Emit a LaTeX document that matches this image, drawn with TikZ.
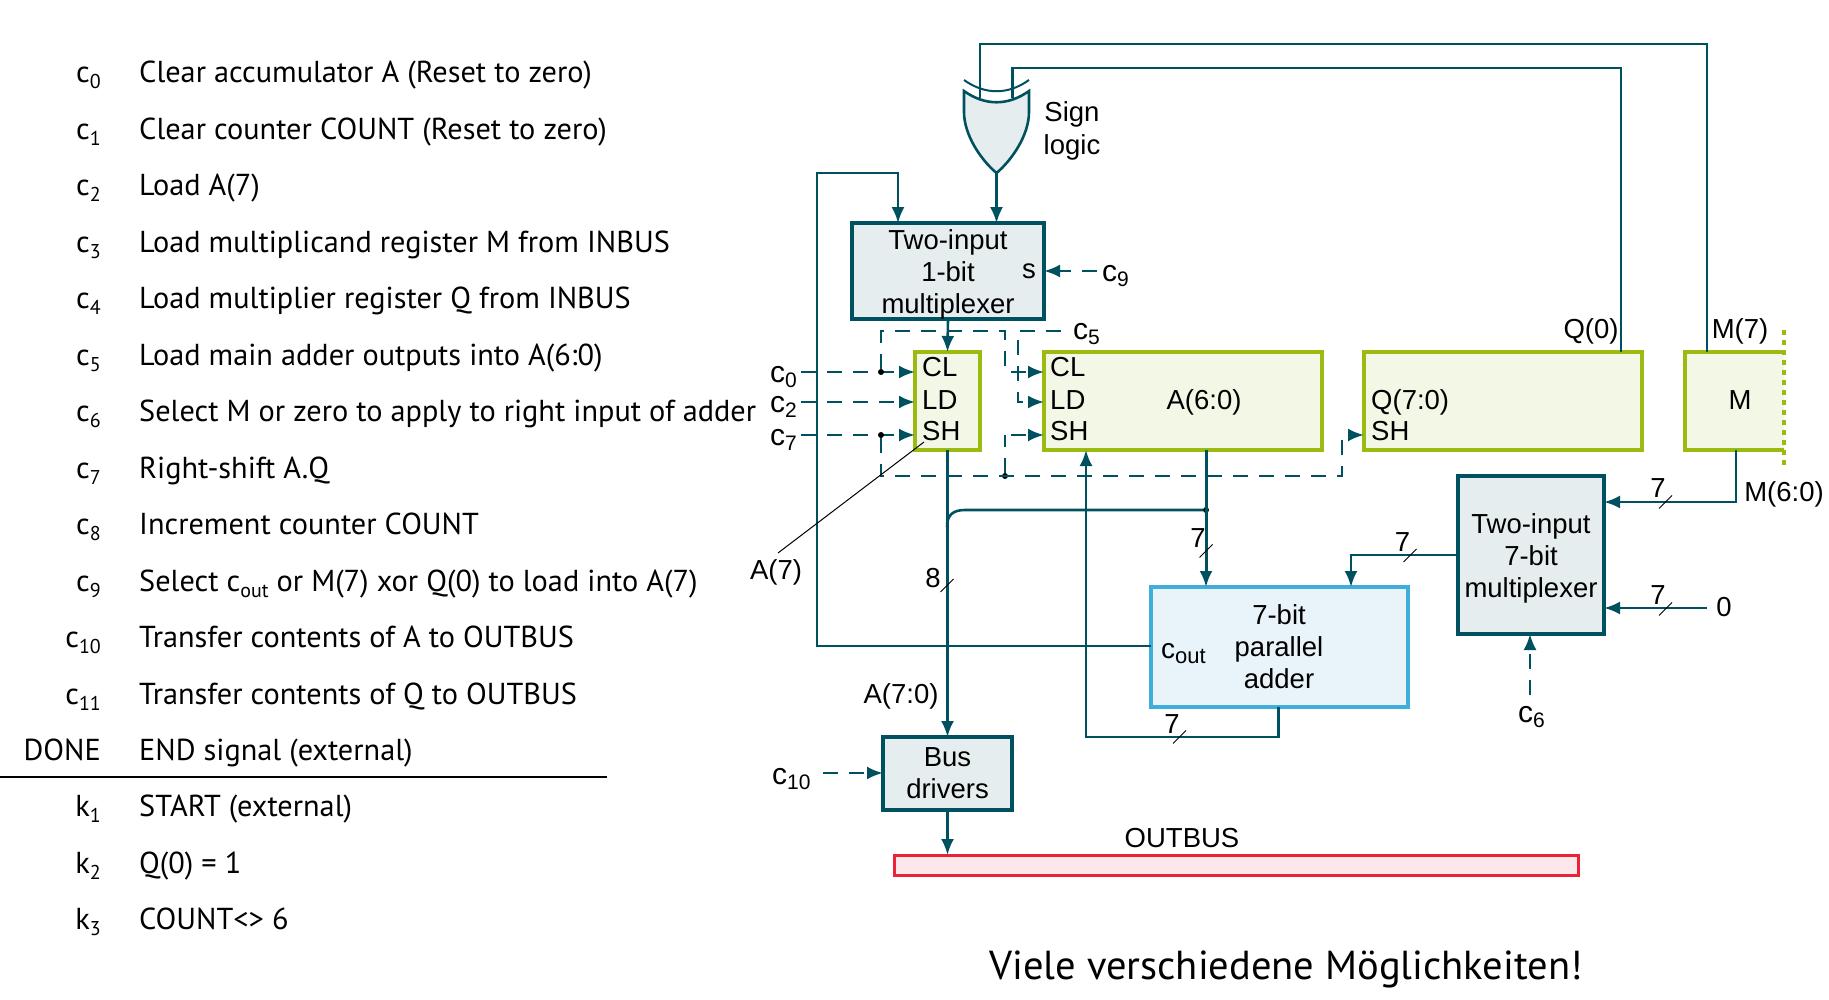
\documentclass[tikz,border=0pt]{standalone}
\usepackage{fontspec}
\usetikzlibrary{arrows.meta}
\setmainfont{PT Sans}
\newfontfamily\diagfont{Liberation Sans}
\definecolor{wirecol}{HTML}{00515F}
\definecolor{muxfill}{HTML}{E5EDEF}
\definecolor{reggreen}{HTML}{9BBB11}
\definecolor{regfill}{HTML}{F3F7E6}
\definecolor{addblue}{HTML}{40AEDA}
\definecolor{addfill}{HTML}{E8F4FA}
\definecolor{busred}{HTML}{EC2239}
\definecolor{busfill}{HTML}{FCE8EA}
\newcommand{\listsub}[2]{#1\raisebox{-6pt}{\fontsize{20}{20}\selectfont #2}}
\newcommand{\ctlsub}[1]{{\fontsize{30}{30}\selectfont c\raisebox{-5pt}{\fontsize{21}{21}\selectfont #1}}}
\newcommand{\boxstrut}{\rule{0pt}{26pt}}
\tikzset{
  wire/.style={draw=wirecol,line width=2.6pt,>={Latex[length=16pt,width=13pt]}},
  ctl/.style={wire,dash pattern=on 15pt off 11pt},
  muxbox/.style={draw=wirecol,fill=muxfill,line width=4pt,outer sep=0pt,inner sep=0pt,align=center,font=\diagfont\fontsize{27.5}{32}\selectfont},
  regbox/.style={draw=reggreen,fill=regfill,line width=4pt,outer sep=0pt,inner sep=0pt},
  addbox/.style={muxbox,draw=addblue,fill=addfill},
  wirelabel/.style={inner sep=0pt,anchor=mid,font=\diagfont\fontsize{27.5}{32}\selectfont},
  ctllabel/.style={inner sep=0pt,anchor=base west,font=\diagfont},
  listlabel/.style={inner sep=0pt,font=\fontsize{30.3}{36}\selectfont},
  junction/.style={circle,fill=black,inner sep=0pt,minimum size=6pt},
  slashmark/.style={black,line width=0.8pt},
}
\begin{document}
\begin{tikzpicture}[x=1pt,y=-1pt]
  \useasboundingbox (0,0) rectangle (1829,1000);
  \foreach \lab/\txt [count=\i] in {
      {\listsub{c}{0}}/{Clear accumulator A (Reset to zero)},
      {\listsub{c}{1}}/{Clear counter COUNT (Reset to zero)},
      {\listsub{c}{2}}/{Load A(7)},
      {\listsub{c}{3}}/{Load multiplicand register M from INBUS},
      {\listsub{c}{4}}/{Load multiplier register Q from INBUS},
      {\listsub{c}{5}}/{Load main adder outputs into A(6:0)},
      {\listsub{c}{6}}/{Select M or zero to apply to right input of adder},
      {\listsub{c}{7}}/{Right-shift A.Q},
      {\listsub{c}{8}}/{Increment counter COUNT},
      {\listsub{c}{9}}/{Select \listsub{c}{out} or M(7) xor Q(0) to load into A(7)},
      {\listsub{c}{10}}/{Transfer contents of A to OUTBUS},
      {\listsub{c}{11}}/{Transfer contents of Q to OUTBUS},
      {DONE}/{END signal (external)},
      {\listsub{k}{1}}/{START (external)},
      {\listsub{k}{2}}/{Q(0) = 1},
      {\listsub{k}{3}}/{COUNT<> 6}}
    {
      \node[listlabel,anchor=base east] (lab\i) at (101,{83+56.46*(\i-1)}) {\lab};
      \node[listlabel,anchor=base west] (txt\i) at (139,{83+56.46*(\i-1)}) {\txt};
    }
  \coordinate (ruleleft) at (0,777);
  \coordinate (ruleright) at (607,777);
  \draw[black,line width=2pt] (ruleleft) -- (ruleright);
  \node[inner sep=0pt,anchor=base,font=\fontsize{40.5}{48}\selectfont] (remark) at (1286,979) {Viele verschiedene Möglichkeiten!};

  \node[muxbox,minimum width=192,minimum height=94] (muxa) at (948,271) {\boxstrut Two-input\\1-bit\\multiplexer};
  \node[regbox,minimum width=65,minimum height=98] (regl) at (947.5,401) {};
  \node[regbox,minimum width=278,minimum height=98] (rega) at (1183,401) {};
  \node[regbox,minimum width=278,minimum height=98] (regq) at (1503,401) {};
  \node[fill=regfill,outer sep=0pt,minimum width=98.5,minimum height=98] (regm) at (1734.5,401) {};
  \node[addbox,minimum width=257,minimum height=120] (adder) at (1279,647) {7-bit\\parallel\\adder};
  \node[muxbox,minimum width=146,minimum height=158] (muxb) at (1531,555) {\boxstrut Two-input\\7-bit\\multiplexer};
  \node[muxbox,minimum width=129,minimum height=73] (bus) at (947.5,773.5) {Bus\\drivers};
  \node[regbox,draw=busred,fill=busfill,line width=3pt,minimum width=684,minimum height=20] (outbus) at (1236,865) {};

  \draw[reggreen,line width=4pt] (regm.north east) -- (regm.north west) -- (regm.south west) -- (regm.south east);
  \coordinate (mdottop) at (1784,330);
  \coordinate (mdotbot) at (1784,468);
  \draw[reggreen,line width=3.5pt,dash pattern=on 5pt off 5pt] (mdottop) -- (mdotbot);

  % sign logic
  \coordinate (gatetip) at (996.5,173);
  \coordinate (gateina) at (980,98);
  \coordinate (gateinb) at (1012.5,98);
  \coordinate (topa) at (980,44);
  \coordinate (topb) at (1012.5,68);
  \coordinate (tops) at (1707,44);
  \coordinate (topq) at (1621,68);
  \coordinate (regmin) at (1707,352);
  \coordinate (regqin) at (1621,352);
  \draw[wire] (gateina) -- (topa) -- (tops) -- (regmin);
  \draw[wire] (gateinb) -- (topb) -- (topq) -- (regqin);
  \draw[wire,fill=muxfill] (964,91) .. controls (985,106) and (1008,106) .. (1029,91) -- (1029,112) .. controls (1029,135) and (1012,160) .. (gatetip) .. controls (981,160) and (964,135) .. (964,112) -- cycle;
  \draw[wire,line width=2pt] (964,80) .. controls (985,95) and (1008,95) .. (1029,80);
  \node[wirelabel] (signlbl) at (1072,119) {Sign};
  \node[wirelabel] (logiclbl) at (1072,152) {logic};
  \draw[wire,->] (gatetip) -- (gatetip |- muxa.north);

  % feedback from adder
  \coordinate (fbtop) at (817,173);
  \coordinate (fbbot) at (817,646);
  \coordinate (fbin) at (898,173);
  \draw[wire,->] (adder.west |- fbbot) -- (fbbot) -- (fbtop) -- (fbin) -- (fbin |- muxa.north);
  \node[ctllabel,font=\diagfont\fontsize{28}{28}\selectfont] (coutlbl) at (1161,658) {c\raisebox{-5pt}{\fontsize{22}{22}\selectfont out}};

  % select and load lines
  \node[wirelabel] (slbl) at (1029,276) {s};
  \coordinate (c9s) at (1097,271);
  \draw[ctl,->] (c9s) -- (muxa.east |- c9s);
  \node[ctllabel] (c9lbl) at (1102,282) {\ctlsub{9}};
  \draw[wire,->] (muxa.south) -- (regl.north);
  \coordinate (c0s) at (801,372);
  \coordinate (c2s) at (801,402);
  \coordinate (c7s) at (801,435);
  \node[ctllabel] (c0lbl) at (770,382) {\ctlsub{0}};
  \node[ctllabel] (c2lbl) at (770,412) {\ctlsub{2}};
  \node[ctllabel] (c7lbl) at (770,445) {\ctlsub{7}};
  \draw[ctl,->] (c0s) -- (regl.west |- c0s);
  \draw[ctl,->] (c2s) -- (regl.west |- c2s);
  \draw[ctl,->] (c7s) -- (regl.west |- c7s);
  \node[junction] (jclr) at (881,372) {};
  \node[junction] (jsh) at (881,435) {};
  \node[junction] (jlow) at (1005,476) {};
  \coordinate (clrtopl) at (881,331);
  \coordinate (clrtopr) at (1005,331);
  \coordinate (clrend) at (1005,372);
  \coordinate (clrnext) at (1011,372);
  \draw[ctl] (jclr) -- (clrtopl) -- (clrtopr) -- (clrend);
  \draw[ctl,->] (clrnext) -- (rega.west |- clrnext);
  \coordinate (c5s) at (1061,331);
  \coordinate (c5top) at (1018,331);
  \coordinate (c5low) at (1018,402);
  \draw[ctl,->] (c5s) -- (c5top) -- (c5low) -- (rega.west |- c5low);
  \node[ctllabel] (c5lbl) at (1073,340) {\ctlsub{5}};
  \coordinate (shleft) at (881,476);
  \coordinate (shright) at (1342,476);
  \coordinate (shup) at (1342,435);
  \draw[ctl,->] (jsh) -- (shleft) -- (shright) -- (shup) -- (regq.west |- shup);
  \coordinate (shmid) at (1005,435);
  \coordinate (shnext) at (1011,435);
  \draw[ctl] (jlow) -- (shmid);
  \draw[ctl,->] (shnext) -- (rega.west |- shnext);

  % register texts
  \foreach \nm/\txt/\px/\py in {cla/CL/922/374,lda/LD/922/407,sha/SH/922/438,clb/CL/1050/374,ldb/LD/1050/407,shb/SH/1050/438,qname/Q(7:0)/1371/407,shq/SH/1371/438}
    \node[wirelabel,anchor=mid west] (\nm) at (\px,\py) {\txt};
  \node[wirelabel] (aname) at (1204,407) {A(6:0)};
  \node[wirelabel] (mname) at (1740,407) {M};
  \node[wirelabel] (qzero) at (1591,336) {Q(0)};
  \node[wirelabel] (mseven) at (1740,336) {M(7)};

  % data paths
  \coordinate (aoutx) at (1206,450);
  \coordinate (aup) at (1086,737);
  \coordinate (aloop) at (1278.6,737);
  \coordinate (brsplit) at (947,527);
  \node[junction] (jaout) at (1206,510) {};
  \draw[wire,line width=3pt,->] (aoutx) -- (aoutx |- adder.north);
  \draw[wire,->] (regl.south) -- (bus.north);
  \draw[wire] (brsplit) .. controls (947,515) and (953,510) .. (965,510) -- (jaout);
  \draw[wire,->] (aloop |- adder.south) -- (aloop) -- (aup) -- (aup |- rega.south);
  \draw[wire,->] (bus.south) -- (bus.south |- outbus.north);
  \coordinate (moutx) at (1736,450);
  \coordinate (moutb) at (1736,502);
  \coordinate (zeroin) at (1707,608);
  \coordinate (muxbout) at (1351,555);
  \draw[wire,->] (moutx) -- (moutb) -- (muxb.east |- moutb);
  \draw[wire,->] (zeroin) -- (muxb.east |- zeroin);
  \draw[wire,->] (muxb.west) -- (muxbout) -- (muxbout |- adder.north);
  \coordinate (c6s) at (1530,695);
  \draw[ctl,->] (c6s) -- (c6s |- muxb.south);
  \node[ctllabel] (c6lbl) at (1518,722) {\ctlsub{6}};
  \coordinate (c10s) at (823,773);
  \draw[ctl,->] (c10s) -- (bus.west |- c10s);
  \node[ctllabel] (c10lbl) at (772,784) {\ctlsub{10}};

  \foreach \nx/\ny/\sx/\sy/\val [count=\i] in {1198/545/1206/551/7,933/585/947/585.5/8,1402.5/549/1410/555.5/7,1658/495/1665.5/502/7,1658/602/1665.5/609/7,1172/731/1179.5/737/7}
    {
      \node[wirelabel] (width\i) at (\nx,\ny) {\val};
      \draw[slashmark] (\sx-6.5,\sy+6.5) -- (\sx+6.5,\sy-6.5);
    }

  \node[wirelabel] (msix) at (1784,499) {M(6:0)};
  \node[wirelabel] (zerolbl) at (1724,614) {0};
  \node[wirelabel] (aseven) at (776,577) {A(7)};
  \node[wirelabel] (aall) at (901,701) {A(7:0)};
  \node[wirelabel] (outlbl) at (1182,845) {OUTBUS};
  \coordinate (leadera) at (778,553);
  \coordinate (leaderb) at (924,442);
  \draw[black,line width=1pt] (leadera) -- (leaderb);
\end{tikzpicture}
\end{document}
